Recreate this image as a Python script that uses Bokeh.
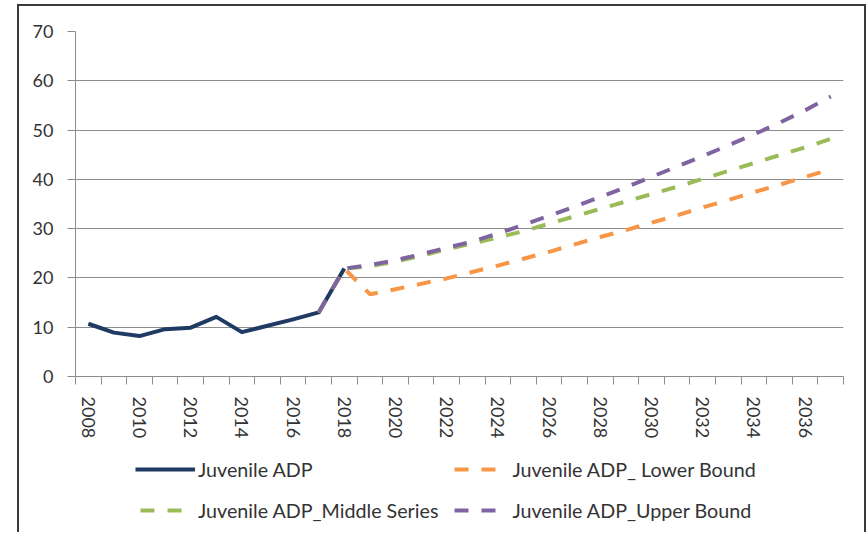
from bokeh.plotting import figure
from bokeh.layouts import column, row
from bokeh.models import Range1d, FixedTicker, Legend, LegendItem, Spacer
from bokeh.embed import file_html
from bokeh.resources import INLINE

# ---- data ----
juv_years = [2008, 2009, 2010, 2011, 2012, 2013, 2014, 2015, 2016, 2017, 2018]
juvenile = [10.7, 8.9, 8.2, 9.6, 9.9, 12.1, 9.0, 10.3, 11.6, 13.0, 21.9]

proj_years = list(range(2017, 2038))
lower = [13.0, 21.9, 16.7, 17.7, 18.8, 19.9, 21.2, 22.5, 23.9, 25.3, 26.8,
         28.3, 29.7, 31.2, 32.7, 34.3, 35.8, 37.4, 38.9, 40.5, 42.0]
middle = [13.0, 21.9, 22.4, 23.3, 24.5, 25.8, 27.0, 28.2, 29.5, 31.0, 32.5,
          34.0, 35.5, 37.0, 38.5, 40.1, 41.7, 43.3, 44.9, 46.5, 48.2]
upper = [13.0, 21.9, 22.6, 23.6, 24.8, 26.1, 27.4, 29.0, 30.8, 32.6, 34.5,
         36.4, 38.4, 40.5, 42.6, 44.7, 46.9, 49.1, 51.5, 54.0, 56.8]

year_labels = list(range(2008, 2037, 2))
category_edges = [2007.5 + i for i in range(31)]
y_ticks = [0, 10, 20, 30, 40, 50, 60, 70]

names = ["Juvenile ADP", "Juvenile ADP_ Lower Bound",
         "Juvenile ADP_Middle Series", "Juvenile ADP_Upper Bound"]
colors = ["#1F3B63", "#F79646", "#9BBB59", "#8064A2"]
dashes = ["solid", "14 13", "14 13", "14 13"]
key_dashes = ["solid", "14 13 14 30", "14 13 14 30", "14 13 14 30"]
series_x = [juv_years, proj_years, proj_years, proj_years]
series_y = [juvenile, lower, middle, upper]

FONT = "Lato"
TEXT = "#333333"
GRID = "#8C8C8C"
LW = 4
W = 845

# ---------------- main chart ----------------
p = figure(width=W, height=438,
           x_range=Range1d(2007.5, 2037.5), y_range=Range1d(0, 70),
           output_backend="svg", toolbar_location=None,
           min_border_left=56, min_border_right=21,
           min_border_top=25, min_border_bottom=68)
p.outline_line_color = None
p.background_fill_color = "white"
p.border_fill_color = "white"

p.xgrid.visible = False
p.ygrid.ticker = FixedTicker(ticks=y_ticks)
p.ygrid.grid_line_color = GRID
p.ygrid.grid_line_width = 1

p.yaxis.ticker = FixedTicker(ticks=y_ticks)
p.yaxis.axis_line_color = GRID
p.yaxis.major_tick_line_color = GRID
p.yaxis.major_tick_out = 8
p.yaxis.major_tick_in = 0
p.yaxis.minor_tick_line_color = None
p.yaxis.major_label_standoff = 14
p.yaxis.major_label_text_font = FONT
p.yaxis.major_label_text_font_size = "18px"
p.yaxis.major_label_text_color = TEXT

p.xaxis.ticker = FixedTicker(ticks=year_labels, minor_ticks=category_edges)
p.xaxis.axis_line_color = GRID
p.xaxis.major_tick_line_color = None
p.xaxis.major_tick_out = 0
p.xaxis.major_tick_in = 0
p.xaxis.minor_tick_line_color = GRID
p.xaxis.minor_tick_out = 8
p.xaxis.minor_tick_in = 0
p.xaxis.major_label_orientation = "vertical"
p.xaxis.major_label_standoff = 12
p.xaxis.major_label_text_font = FONT
p.xaxis.major_label_text_font_size = "18px"
p.xaxis.major_label_text_color = TEXT

for xs, ys, c, d in zip(series_x, series_y, colors, dashes):
    p.line(xs, ys, line_color=c, line_width=LW, line_dash=d,
           line_join="round")

# ---------------- legend strip ----------------
pl = figure(width=W, height=88, x_range=Range1d(0, 1), y_range=Range1d(0, 1),
            output_backend="svg", toolbar_location=None,
            x_axis_location=None, y_axis_location=None,
            min_border_left=56, min_border_right=21,
            min_border_top=0, min_border_bottom=0)
pl.grid.visible = False
pl.outline_line_color = None
pl.background_fill_color = "white"
pl.border_fill_color = "white"

items = []
for nm, xs, ys, c, d in zip(names, series_x, series_y, colors, key_dashes):
    # same series, outside this strip's view; used only as legend keys
    r = pl.line(xs, ys, line_color=c, line_width=LW, line_dash=d,
                line_dash_offset=66)
    items.append(LegendItem(label=nm, renderers=[r]))

legend = Legend(items=items, orientation="horizontal", ncols=2,
                location=(60, 7))
legend.padding = 0
legend.margin = 0
legend.spacing = 11
legend.glyph_width = 60
legend.glyph_height = 30
legend.label_standoff = 3
legend.label_text_font = FONT
legend.label_text_font_size = "19.7px"
legend.label_text_color = TEXT
legend.border_line_color = None
legend.background_fill_alpha = 0
pl.add_layout(legend, "center")

inner = column(p, pl, spacing=0)
inner.styles = {"border-left": "2px solid #3a3a3a",
                "border-top": "2px solid #3a3a3a",
                "border-right": "2px solid #3a3a3a"}
layout = column(Spacer(width=10, height=4),
                row(Spacer(width=17, height=10), inner, spacing=0),
                spacing=0)

open("out.html", "w").write(file_html(layout, INLINE))
